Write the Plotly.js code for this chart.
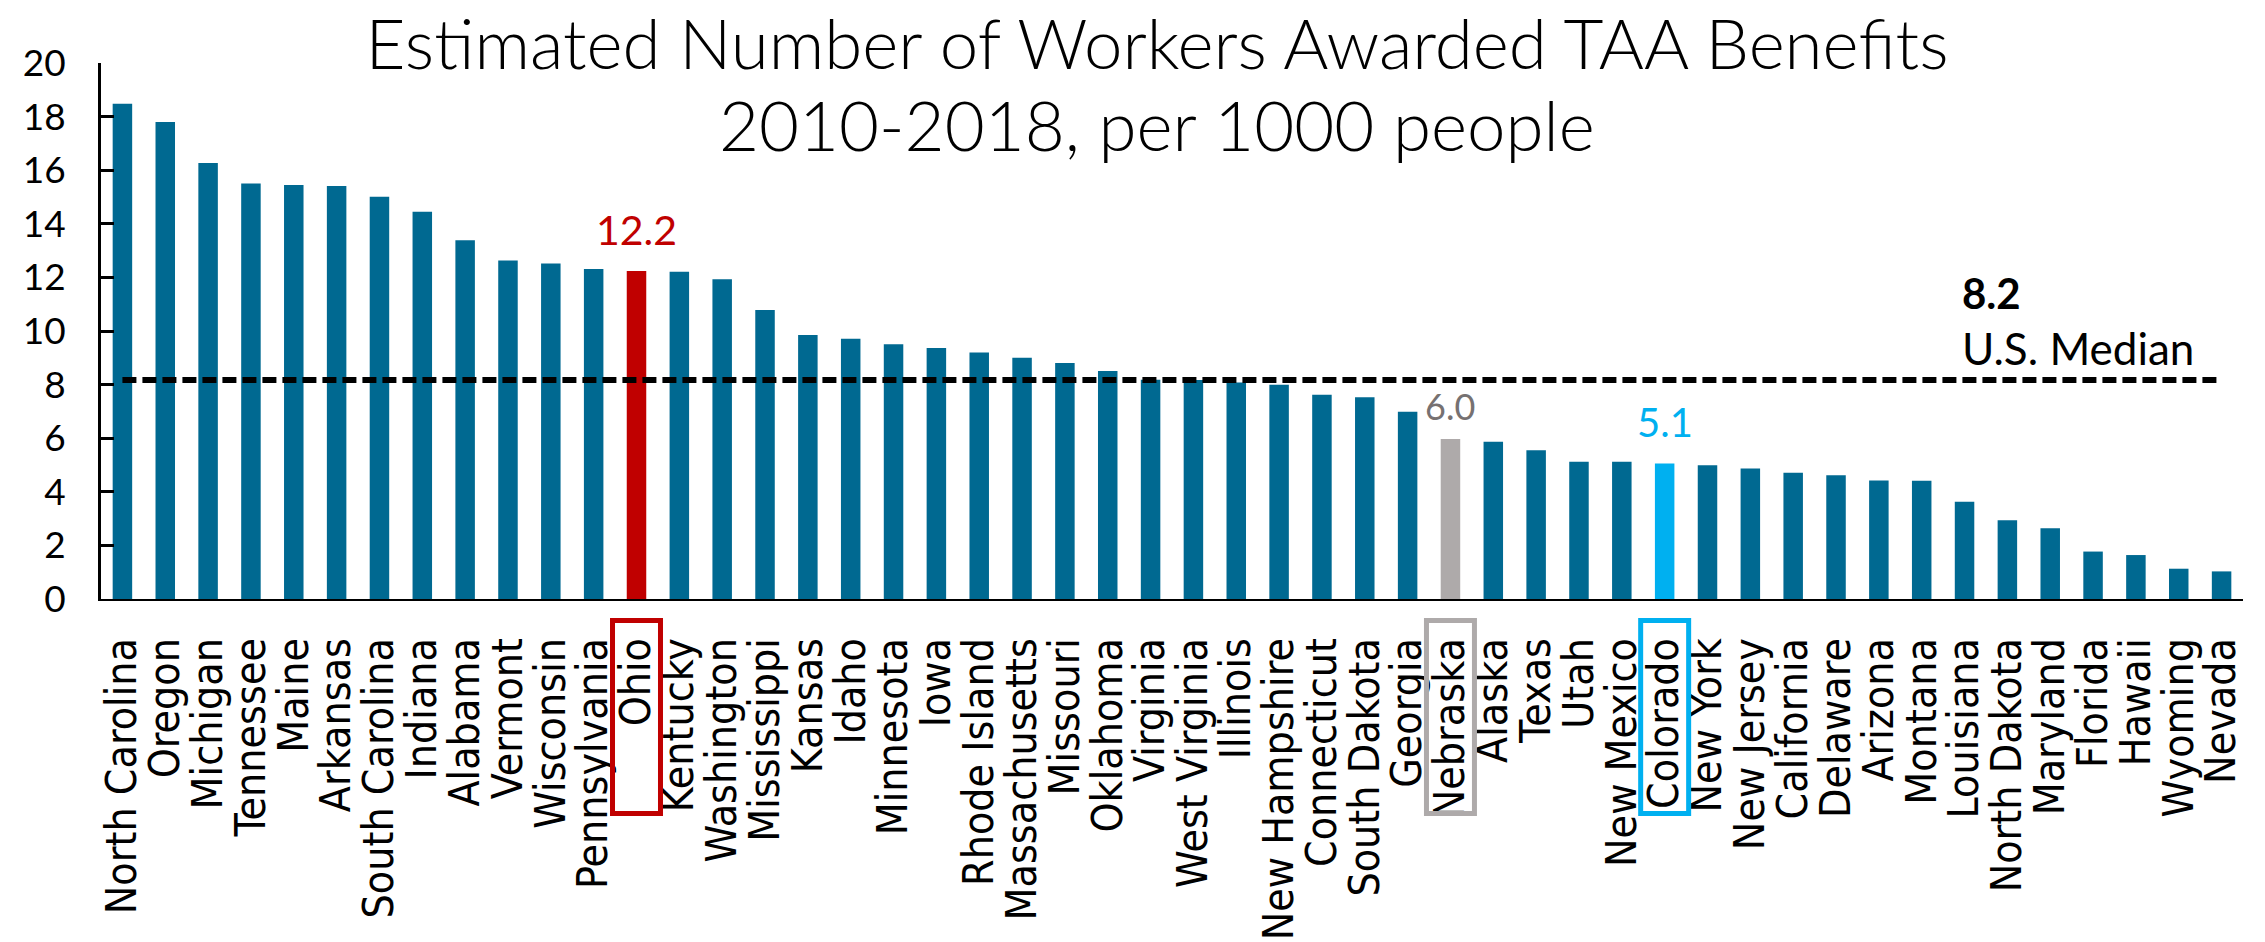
<!DOCTYPE html>
<html><head><meta charset="utf-8">
<script src="https://cdn.plot.ly/plotly-3.0.1.min.js"></script>
<style>html,body{margin:0;padding:0;background:#fff}#chart{width:2265px;height:942px}</style>
</head><body><div id="chart"></div><script>
const states = ['North Carolina','Oregon','Michigan','Tennessee','Maine','Arkansas','South Carolina','Indiana','Alabama','Vermont','Wisconsin','Pennsylvania','Ohio','Kentucky','Washington','Mississippi','Kansas','Idaho','Minnesota','Iowa','Rhode Island','Massachusetts','Missouri','Oklahoma','Virginia','West Virginia','Illinois','New Hampshire','Connecticut','South Dakota','Georgia','Nebraska','Alaska','Texas','Utah','New Mexico','Colorado','New York','New Jersey','California','Delaware','Arizona','Montana','Louisiana','North Dakota','Maryland','Florida','Hawaii','Wyoming','Nevada'];
const workersPer1000 = [18.48,17.80,16.27,15.50,15.45,15.41,15.01,14.45,13.39,12.63,12.52,12.31,12.24,12.21,11.93,10.78,9.85,9.71,9.51,9.37,9.20,9.00,8.81,8.51,8.18,8.17,8.08,7.99,7.62,7.53,6.99,5.97,5.87,5.55,5.12,5.12,5.06,4.99,4.87,4.71,4.62,4.42,4.41,3.63,2.94,2.64,1.77,1.64,1.13,1.03];
const usMedian = 8.17;
const highlightStates = ['Ohio','Nebraska','Colorado'];
const highlightBarColors = ['#C00000','#AEAAAA','#00B0F0'];
const highlightTextColors = ['#C00000','#767171','#00B0F0'];
const yTickValues = [0,2,4,6,8,10,12,14,16,18,20];
const titleLines = ['Estimated Number of Workers Awarded TAA Benefits','2010-2018, per 1000 people'];
const medianLabel = 'U.S. Median';

const baseColor = '#006991';
const barColors = states.map(s => {
  const i = highlightStates.indexOf(s);
  return i >= 0 ? highlightBarColors[i] : baseColor;
});

const bars = {
  type: 'bar', x: states, y: workersPer1000,
  marker: {color: barColors, line: {width: 0}},
  hoverinfo: 'x+y'
};
const medianLine = {
  type: 'scatter', mode: 'lines',
  x: [states[0], states[states.length - 1]], y: [usMedian, usMedian],
  line: {color: '#000000', width: 6, dash: '14px,6px'},
  hoverinfo: 'skip'
};

const titleFont = {family: 'Lato, sans-serif', size: 69, weight: 300, color: '#000000'};

const valueSizes = [41, 36, 40];
const valueShifts = [15, 9, 15];
const annotations = highlightStates.map((s, i) => ({
  xref: 'x', yref: 'y', x: s, y: workersPer1000[states.indexOf(s)],
  text: workersPer1000[states.indexOf(s)].toFixed(1),
  showarrow: false, xanchor: 'center', yanchor: 'bottom', yshift: valueShifts[i],
  font: {family: 'Lato, sans-serif', size: valueSizes[i], color: highlightTextColors[i]}
}));
annotations.push({
  xref: 'paper', yref: 'y', x: 0.868, y: usMedian, text: '<b>' + usMedian.toFixed(1) + '</b>',
  showarrow: false, xanchor: 'left', yanchor: 'bottom', yshift: 60,
  font: {family: 'Lato, sans-serif', size: 42, color: '#000000'}
});
annotations.push({
  xref: 'paper', yref: 'y', x: 0.868, y: usMedian, text: medianLabel,
  showarrow: false, xanchor: 'left', yanchor: 'bottom', yshift: 4,
  font: {family: 'Lato, sans-serif', size: 44, color: '#000000'}
});
// second title line
annotations.push({
  xref: 'paper', yref: 'paper', x: 0.493, y: 0.805, text: titleLines[1],
  showarrow: false, xanchor: 'center', yanchor: 'bottom',
  font: titleFont
});

const shapes = highlightStates.map((s, i) => ({
  type: 'rect', xref: 'x', yref: 'paper', layer: 'above',
  x0: states.indexOf(s) - 0.56, x1: states.indexOf(s) + 0.56,
  y0: -0.040, y1: -0.400,
  line: {color: highlightBarColors[i], width: 5}, fillcolor: 'rgba(0,0,0,0)'
}));

const layout = {
  width: 2265, height: 942,
  paper_bgcolor: '#ffffff', plot_bgcolor: '#ffffff',
  margin: {l: 101, r: 22, t: 63, b: 343, pad: 0, autoexpand: false},
  showlegend: false, bargap: 0.545,
  title: {
    text: titleLines[0],
    x: 0.493, xref: 'paper', xanchor: 'center',
    y: 0.9268, yref: 'container', yanchor: 'bottom',
    font: titleFont
  },
  xaxis: {
    type: 'category', range: [-0.5, states.length - 0.5],
    tickmode: 'array', tickvals: states, ticktext: states,
    showline: true, linecolor: '#000000', linewidth: 2,
    ticks: '', showgrid: false, zeroline: false,
    tickangle: -90, automargin: false, ticklabelstandoff: 20,
    tickfont: {family: '"DejaVu Sans Condensed", "DejaVu Sans", sans-serif', size: 42.5, color: '#000000'}
  },
  yaxis: {
    range: [0, 20], tickvals: yTickValues, ticktext: yTickValues.map(String),
    showline: true, linecolor: '#000000', linewidth: 3,
    ticks: 'inside', ticklen: 13, tickwidth: 3, tickcolor: '#000000',
    showgrid: false, zeroline: false, automargin: false, ticklabelstandoff: 25,
    tickfont: {family: 'Lato, sans-serif', size: 37, color: '#000000'}
  },
  annotations: annotations,
  shapes: shapes
};

Plotly.newPlot('chart', [bars, medianLine], layout, {displayModeBar: false, staticPlot: true});
</script></body></html>
